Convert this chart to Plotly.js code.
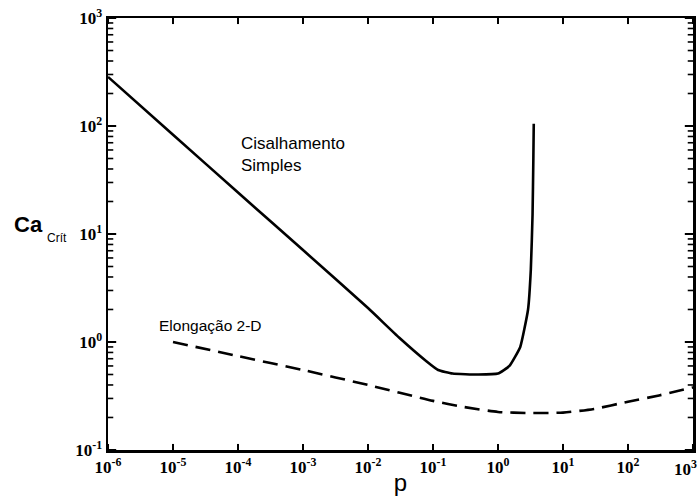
<!DOCTYPE html>
<html>
<head>
<meta charset="utf-8">
<script src="https://cdn.plot.ly/plotly-3.0.1.min.js"></script>
<style>html,body{margin:0;padding:0;background:#fff;}#chart{width:700px;height:496px;}</style>
</head>
<body>
<div id="chart"></div>
<script>
// Cisalhamento Simples (solid)
const shearP  = [1e-6, 1e-5, 1e-4, 1e-3, 1e-2, 0.03, 0.08, 0.12, 0.2, 0.5, 1.0, 1.5, 2.2, 2.9, 3.2, 3.4, 3.5, 3.55];
const shearCa = [285, 83, 24.2, 7.1, 2.06, 1.1, 0.66, 0.55, 0.51, 0.50, 0.51, 0.6, 0.9, 2.0, 4.7, 15, 50, 105];
// Elongação 2-D (dashed)
const elongP  = [1e-5, 1e-4, 1e-3, 1e-2, 1e-1, 0.3, 1, 3, 10, 30, 100, 300, 1000];
const elongCa = [1.0, 0.74, 0.55, 0.40, 0.285, 0.25, 0.225, 0.22, 0.222, 0.24, 0.28, 0.32, 0.38];

const xTickVals = [1e-6, 1e-5, 1e-4, 1e-3, 1e-2, 1e-1, 1, 10, 100, 1000];
const xTickText = ['10<sup>-6</sup>','10<sup>-5</sup>','10<sup>-4</sup>','10<sup>-3</sup>','10<sup>-2</sup>','10<sup>-1</sup>','10<sup>0</sup>','10<sup>1</sup>','10<sup>2</sup>',''];
const xLastLabel = '10<sup>3</sup>';
const yMajorVals = [0.1, 1, 10, 100, 1000];
const yMajorText = ['10<sup>-1</sup>','10<sup>0</sup>','10<sup>1</sup>','10<sup>2</sup>','10<sup>3</sup>'];

// minor tick positions on the log y axis (2..9 x each decade)
const yMinorVals = [];
yMajorVals.forEach(d => { if (d < 1000) for (let m = 2; m <= 9; m++) yMinorVals.push(m * d); });

// tick marks drawn inward on all four sides of the frame
const tickLine = {color: '#000', width: 2};
const shapes = [];
yMajorVals.forEach(v => {
  shapes.push({type: 'line', xref: 'x domain', yref: 'y', x0: 0, x1: 0.014, y0: v, y1: v, line: tickLine});
  shapes.push({type: 'line', xref: 'x domain', yref: 'y', x0: 1, x1: 0.986, y0: v, y1: v, line: tickLine});
});
yMinorVals.forEach(v => {
  shapes.push({type: 'line', xref: 'x domain', yref: 'y', x0: 0, x1: 0.009, y0: v, y1: v, line: {color: '#000', width: 1.6}});
  shapes.push({type: 'line', xref: 'x domain', yref: 'y', x0: 1, x1: 0.991, y0: v, y1: v, line: {color: '#000', width: 1.6}});
});
xTickVals.forEach(v => {
  shapes.push({type: 'line', xref: 'x', yref: 'y domain', x0: v, x1: v, y0: 0, y1: 0.014, line: tickLine});
  shapes.push({type: 'line', xref: 'x', yref: 'y domain', x0: v, x1: v, y0: 1, y1: 0.986, line: tickLine});
});

const traces = [
  {x: shearP, y: shearCa, type: 'scatter', mode: 'lines', line: {color: '#000', width: 2.6, shape: 'spline', smoothing: 0.4}, hoverinfo: 'skip'},
  {x: elongP, y: elongCa, type: 'scatter', mode: 'lines', line: {color: '#000', width: 2.6, dash: '15px,8px', shape: 'spline', smoothing: 0.6}, hoverinfo: 'skip'}
];

const tickFont = {family: 'Liberation Serif, Times New Roman, serif', size: 17, color: '#000', weight: 'bold'};

const layout = {
  width: 700, height: 496,
  margin: {l: 108, r: 7, t: 18, b: 46},
  paper_bgcolor: '#fff', plot_bgcolor: '#fff',
  showlegend: false,
  xaxis: {
    type: 'log', range: [-6.0002, 3.0002],
    tickmode: 'array', tickvals: xTickVals, ticktext: xTickText,
    ticks: 'inside', ticklen: 6, tickwidth: 2, tickcolor: '#000',
    showline: true, linecolor: '#000', linewidth: 2.5, mirror: 'ticks',
    showgrid: false, zeroline: false,
    tickfont: tickFont,
    title: {text: 'p', font: {family: 'Liberation Sans, Arial, sans-serif', size: 24, color: '#000'}, standoff: 2}
  },
  yaxis: {
    type: 'log', range: [-1.0002, 3.0002],
    tickmode: 'array', tickvals: yMajorVals, ticktext: yMajorText,
    ticks: 'inside', ticklen: 8, tickwidth: 2, tickcolor: '#000',
    showline: true, linecolor: '#000', linewidth: 2.5, mirror: 'ticks',
    showgrid: false, zeroline: false,
    tickfont: tickFont
  },
  shapes: shapes,
  annotations: [
    {xref: 'paper', yref: 'paper', x: 0.224, y: 0.685, xanchor: 'left', yanchor: 'middle', align: 'left', showarrow: false,
     text: 'Cisalhamento<br>Simples', font: {family: 'Liberation Sans, Arial, sans-serif', size: 17, color: '#000'}},
    {xref: 'paper', yref: 'paper', x: 0.083, y: 0.289, xanchor: 'left', yanchor: 'middle', showarrow: false,
     text: 'Elongação 2-D', font: {family: 'Liberation Sans, Arial, sans-serif', size: 15.5, color: '#000'}},
    {xref: 'paper', yref: 'paper', x: -0.164, y: 0.521, xanchor: 'left', yanchor: 'middle', showarrow: false,
     text: '<b>Ca</b>', font: {family: 'Liberation Sans, Arial, sans-serif', size: 22, color: '#000'}},
    {xref: 'paper', yref: 'paper', x: -0.108, y: 0.491, xanchor: 'left', yanchor: 'middle', showarrow: false,
     text: 'Crít', font: {family: 'Liberation Sans, Arial, sans-serif', size: 12, color: '#000'}},
    {xref: 'paper', yref: 'paper', x: 1.011, y: -0.011, xanchor: 'right', yanchor: 'top', showarrow: false,
     text: xLastLabel, font: tickFont}
  ]
};

Plotly.newPlot('chart', traces, layout, {displayModeBar: false, staticPlot: true});
</script>
</body>
</html>
